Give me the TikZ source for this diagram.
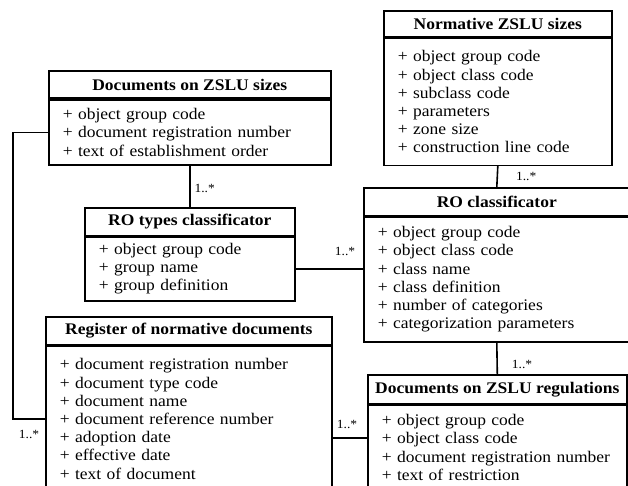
\documentclass[tikz,border=0pt]{standalone}
\usepackage{fontspec}
\setmainfont{Liberation Serif}[FakeStretch=1.08]
\usepackage{tikz}
\usetikzlibrary{positioning}
\newcommand{\multfmt}[1]{{\fontsize{12.5}{14}\selectfont #1}}

\begin{document}
\begin{tikzpicture}[
    x=1pt, y=-1pt,
    font=\fontsize{16.2}{18.2}\selectfont,
    cls/.style={draw, line width=1.6pt, font=\fontsize{16.2}{18.2}\selectfont\bfseries,
      anchor=north west, minimum height=27.5pt, inner sep=0pt},
    attrs/.style={draw, line width=1.6pt, anchor=north west, align=left,
      inner xsep=14pt, inner ysep=2pt},
    link/.style={line width=1.6pt},
    mult/.style={inner sep=0pt}]

  \useasboundingbox (0,0) rectangle (628,486);
  \clip (0,0) rectangle (628,486);

  \node[cls, minimum width=282pt] (docsizes) at (48,70) {Documents on ZSLU sizes};
  \node[attrs, text width=254pt, minimum height=65pt] (docsizesb) at (docsizes.south west)
    {+ object group code\\ + document registration number\\ + text of establishment order};

  \node[cls, minimum width=228pt, minimum height=26pt] (normsizes) at (383,10) {Normative ZSLU sizes};
  \node[attrs, text width=200pt, minimum height=127pt] (normsizesb) at (normsizes.south west)
    {+ object group code\\ + object class code\\ + subclass code\\ + parameters\\
     + zone size\\ + construction line code};

  \node[cls, minimum width=210pt] (rotypes) at (84,207) {RO types classificator};
  \node[attrs, text width=182pt, minimum height=64pt] (rotypesb) at (rotypes.south west)
    {+ object group code\\ + group name\\ + group definition};

  \node[cls, minimum width=266pt] (roclass) at (363,187) {RO classificator};
  \node[attrs, text width=238pt, minimum height=125pt] (roclassb) at (roclass.south west)
    {+ object group code\\ + object class code\\ + class name\\ + class definition\\
     + number of categories\\ + categorization parameters};

  \node[cls, minimum width=286pt] (register) at (45,316) {Register of normative documents};
  \node[attrs, text width=258pt, minimum height=146pt] (registerb) at (register.south west)
    {+ document registration number\\ + document type code\\ + document name\\
     + document reference number\\ + adoption date\\ + effective date\\ + text of document};

  \node[cls, minimum width=259pt, minimum height=29pt] (regul) at (367,374) {Documents on ZSLU regulations};
  \node[attrs, text width=231pt, minimum height=84pt] (regulb) at (regul.south west)
    {+ object group code\\ + object class code\\ + document registration number\\
     + text of restriction};

  \draw[link] (docsizesb.south) -- (rotypes.north)
    node[mult, pos=0.55, right=4pt] {\multfmt{1..*}};
  \draw[link] (normsizesb.south) -- (roclass.north)
    node[mult, pos=0.5, right=18pt] {\multfmt{1..*}};
  \draw[link] (rotypesb.east) -- (rotypesb.east -| roclass.west)
    node[mult, pos=1, above left=12pt and 7pt] {\multfmt{1..*}};
  \draw[link] (roclassb.south) -- (regul.north)
    node[mult, pos=0.71, right=14pt] {\multfmt{1..*}};
  \draw[link] (docsizesb.west) -- ++(-35,0) |- (registerb.west)
    node[mult, pos=0.75, below=11pt] {\multfmt{1..*}};
  \draw[link] ([yshift=-19pt]registerb.east) -- ([yshift=-19pt]registerb.east -| regulb.west)
    node[mult, pos=1, above left=8pt and 9pt] {\multfmt{1..*}};
\end{tikzpicture}
\end{document}
